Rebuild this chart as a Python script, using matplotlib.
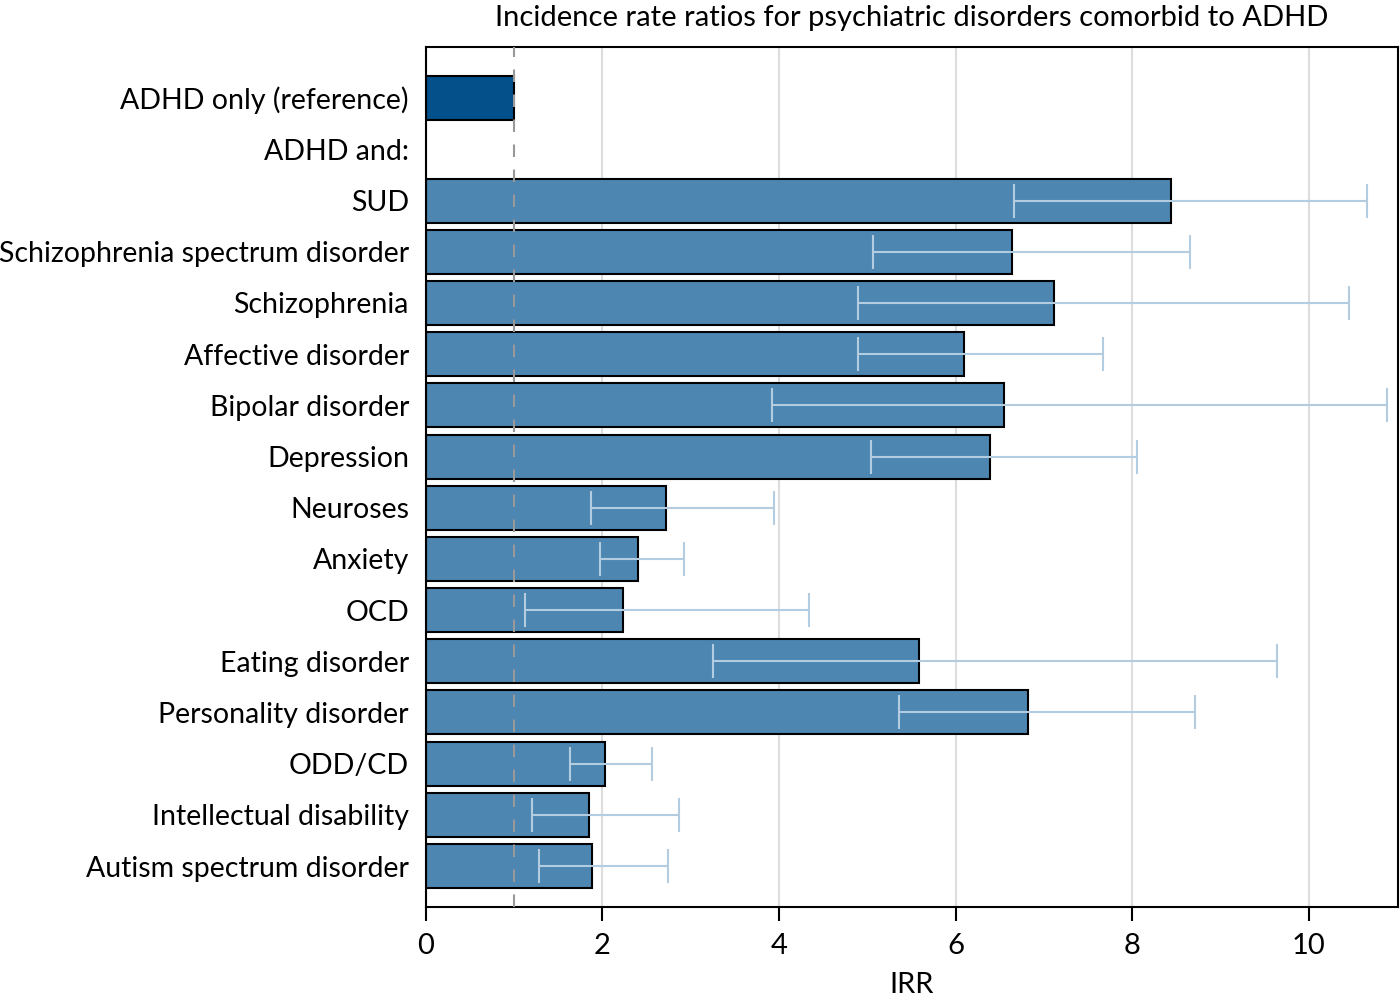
import numpy as np
from matplotlib import pyplot as plt

labels = ['ADHD only (reference)', 'ADHD and:', 'SUD', 'Schizophrenia spectrum disorder',
          'Schizophrenia', 'Affective disorder', 'Bipolar disorder', 'Depression',
          'Neuroses', 'Anxiety', 'OCD', 'Eating disorder', 'Personality disorder',
          'ODD/CD', 'Intellectual disability', 'Autism spectrum disorder']
irr = [1.0, np.nan, 8.44, 6.64, 7.11, 6.10, 6.55, 6.39, 2.72, 2.41, 2.23, 5.59, 6.82,
       2.03, 1.85, 1.88]
ci_low = [np.nan, np.nan, 6.66, 5.07, 4.89, 4.89, 3.92, 5.04, 1.87, 1.97, 1.13, 3.25,
          5.36, 1.63, 1.20, 1.28]
ci_high = [np.nan, np.nan, 10.66, 8.66, 10.46, 7.67, 10.89, 8.05, 3.95, 2.92, 4.34, 9.64,
           8.71, 2.56, 2.87, 2.74]

plt.rcParams['font.family'] = ['Lato', 'DejaVu Sans']

fig = plt.figure(figsize=(14, 10), dpi=100)
ax = fig.add_axes([0.304, 0.093, 0.6946, 0.860])

y = np.arange(len(labels))
colors = ['#03508a'] + ['#4c86b1'] * (len(labels) - 1)
vals = np.nan_to_num(np.array(irr))
bars = ax.barh(y, vals, height=0.86, color=colors, edgecolor='black', linewidth=1.5, zorder=2)
bars[1].set_visible(False)

# confidence intervals
lo = np.array(ci_low)
hi = np.array(ci_high)
m = ~np.isnan(lo)
mid = (lo + hi) / 2
ax.errorbar(mid[m], y[m], xerr=[(mid - lo)[m], (hi - mid)[m]], fmt='none',
            ecolor='#b3cce0', elinewidth=1.5, capsize=12, capthick=1.5, zorder=3)

ax.axvline(1, color='#999999', linestyle=(0, (6, 6)), linewidth=1.5, zorder=4)

ax.set_xlim(0, 11.01)
ax.set_ylim(15.8, -1.0)
ax.set_xticks([0, 2, 4, 6, 8, 10])
ax.xaxis.grid(True, color='#dddddd', linewidth=1.5, zorder=0)
ax.set_axisbelow(True)
ax.set_yticks(y)
ax.set_yticklabels(labels)
ax.tick_params(axis='y', length=0, pad=12, labelsize=20.5)
ax.tick_params(axis='x', length=10, width=1.5, direction='out', pad=9, labelsize=21)
for s in ax.spines.values():
    s.set_linewidth(1.5)

ax.set_xlabel('IRR', fontsize=21, labelpad=9)
ax.set_title('Incidence rate ratios for psychiatric disorders comorbid to ADHD', fontsize=21, pad=15)

fig.savefig('out.png')
